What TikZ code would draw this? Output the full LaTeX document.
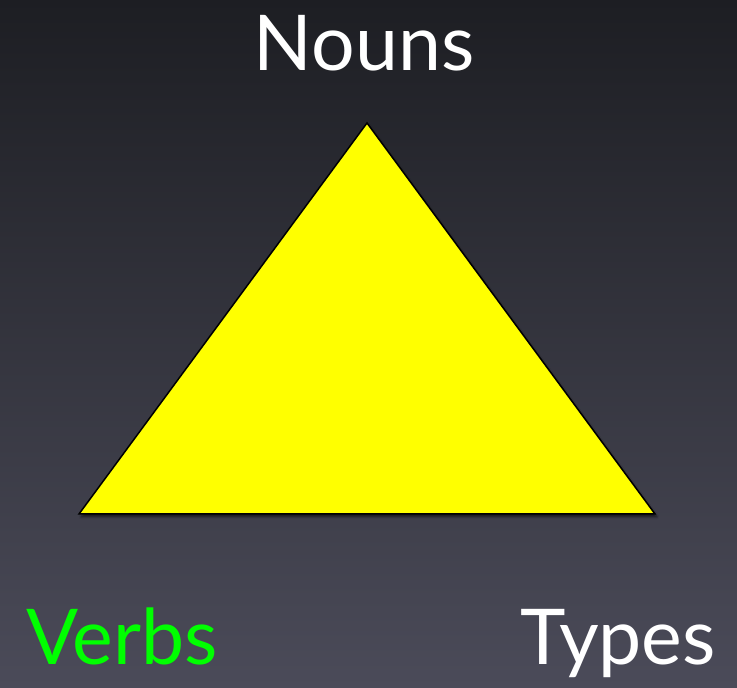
\documentclass[tikz,border=0pt]{standalone}
\usepackage{fontspec}
\setmainfont{Lato}
\usetikzlibrary{shadows,shadows.blur}
\definecolor{bgtop}{HTML}{1D1E23}
\definecolor{bgbot}{HTML}{4B4B59}
\definecolor{tri}{HTML}{FFFF00}
\definecolor{verbgreen}{HTML}{00FF00}
\tikzset{
  label text/.style={font=\fontsize{77}{77}\selectfont, inner sep=0pt, anchor=base},
  tri face/.style={fill=tri, draw=black, line width=1.5pt, line join=miter,
     blur shadow={shadow xshift=2pt, shadow yshift=-3pt, shadow blur steps=6, shadow opacity=60}}
}
\begin{document}
\begin{tikzpicture}[x=1pt,y=1pt]
  \shade[top color=bgtop, bottom color=bgbot] (0,0) rectangle (737,688);
  \useasboundingbox (0,0) rectangle (737,688);
  \coordinate (top) at (367,565);
  \coordinate (bl) at (79,174);
  \coordinate (br) at (655,174);
  \path[tri face] (top) -- (bl) -- (br) -- cycle;
  \node[label text, text=white] (nouns) at (364,617) {Nouns};
  \node[label text, text=verbgreen, anchor=base west] (verbs) at (26,23) {Verbs};
  \node[label text, text=white, anchor=base east] (types) at (716,23) {Types};
\end{tikzpicture}
\end{document}
